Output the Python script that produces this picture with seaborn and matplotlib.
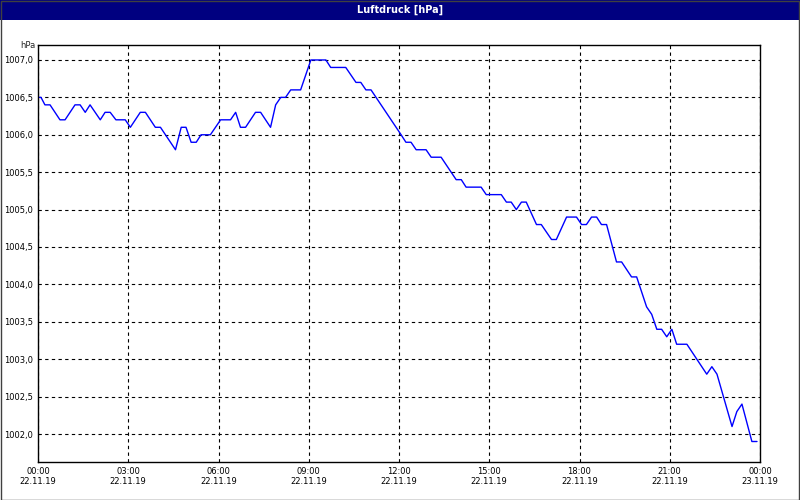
import pandas as pd
import matplotlib.pyplot as plt
import seaborn as sns
from matplotlib.patches import Rectangle

# hours since 22.11.19 00:00, pressure in hPa
hours = [0.0, 0.1, 0.23, 0.4, 0.73, 0.9, 1.23, 1.4, 1.57, 1.73, 2.07, 2.23, 2.4, 2.59, 2.9,
         3.07, 3.4, 3.57, 3.9, 4.07, 4.57, 4.76, 4.92, 5.09, 5.26, 5.42, 5.73, 6.07, 6.4,
         6.57, 6.73, 6.9, 7.23, 7.4, 7.73, 7.9, 8.07, 8.23, 8.4, 8.73, 9.07, 9.57, 9.73,
         10.23, 10.57, 10.73, 10.9, 11.07, 12.07, 12.23, 12.4, 12.57, 12.9, 13.07, 13.4,
         13.9, 14.07, 14.23, 14.73, 14.9, 15.4, 15.57, 15.73, 15.9, 16.07, 16.23, 16.57,
         16.73, 17.07, 17.23, 17.57, 17.9, 18.07, 18.23, 18.4, 18.57, 18.73, 18.9, 19.23,
         19.4, 19.73, 19.9, 20.23, 20.4, 20.57, 20.73, 20.9, 21.07, 21.23, 21.57, 21.9,
         22.23, 22.4, 22.57, 23.07, 23.23, 23.4, 23.73, 23.9]
pressure = [1006.5, 1006.5, 1006.4, 1006.4, 1006.2, 1006.2, 1006.4, 1006.4, 1006.3, 1006.4,
            1006.2, 1006.3, 1006.3, 1006.2, 1006.2, 1006.1, 1006.3, 1006.3, 1006.1, 1006.1,
            1005.8, 1006.1, 1006.1, 1005.9, 1005.9, 1006.0, 1006.0, 1006.2, 1006.2, 1006.3,
            1006.1, 1006.1, 1006.3, 1006.3, 1006.1, 1006.4, 1006.5, 1006.5, 1006.6, 1006.6,
            1007.0, 1007.0, 1006.9, 1006.9, 1006.7, 1006.7, 1006.6, 1006.6, 1006.0, 1005.9,
            1005.9, 1005.8, 1005.8, 1005.7, 1005.7, 1005.4, 1005.4, 1005.3, 1005.3, 1005.2,
            1005.2, 1005.1, 1005.1, 1005.0, 1005.1, 1005.1, 1004.8, 1004.8, 1004.6, 1004.6,
            1004.9, 1004.9, 1004.8, 1004.8, 1004.9, 1004.9, 1004.8, 1004.8, 1004.3, 1004.3,
            1004.1, 1004.1, 1003.7, 1003.6, 1003.4, 1003.4, 1003.3, 1003.4, 1003.2, 1003.2,
            1003.0, 1002.8, 1002.9, 1002.8, 1002.1, 1002.3, 1002.4, 1001.9, 1001.9]

tick_hours = [0, 3, 6, 9, 12, 15, 18, 21, 24]
tick_labels = ["00:00\n22.11.19", "03:00\n22.11.19", "06:00\n22.11.19", "09:00\n22.11.19",
               "12:00\n22.11.19", "15:00\n22.11.19", "18:00\n22.11.19", "21:00\n22.11.19",
               "00:00\n23.11.19"]
y_ticks = [1002.0, 1002.5, 1003.0, 1003.5, 1004.0, 1004.5, 1005.0, 1005.5, 1006.0, 1006.5, 1007.0]

df = pd.DataFrame({"h": hours, "p": pressure})

sns.set_style("white")
plt.rcParams['font.family'] = ['DejaVu Sans']
fig = plt.figure(figsize=(8, 5), dpi=100)
fig.patch.set_facecolor("white")

# title bar
fig.patches.append(Rectangle((0, 0.96), 1, 0.04, transform=fig.transFigure,
                             facecolor="#000080", edgecolor="none", zorder=0))
fig.patches.append(Rectangle((0.001, 0.001), 0.998, 0.998, transform=fig.transFigure,
                             facecolor="none", edgecolor="#404040", linewidth=1))
fig.text(0.5, 0.98, "Luftdruck [hPa]", color="white", fontsize=7, fontweight="bold",
         ha="center", va="center")

ax = fig.add_axes([0.0475, 0.076, 0.9025, 0.834])
sns.lineplot(data=df, x="h", y="p", color="blue", linewidth=1, ax=ax)
ax.set_xlim(0, 24)
ax.set_ylim(1001.626, 1007.2)
ax.set_xticks(tick_hours)
ax.set_xticklabels(tick_labels, fontsize=6)
ax.set_yticks(y_ticks)
ax.set_yticklabels([f"{v:.1f}".replace(".", ",") for v in y_ticks], fontsize=6)
ax.grid(True, color="black", linestyle=(0, (3, 3)), linewidth=0.8)
ax.tick_params(length=2, pad=1.5, colors="black")
for s in ax.spines.values():
    s.set_color("black")
    s.set_linewidth(1)
ax.set_xlabel("")
ax.set_ylabel("")
fig.text(0.025, 0.91, "hPa", fontsize=6, ha="left", va="center")

fig.savefig("out.png", dpi=100)
